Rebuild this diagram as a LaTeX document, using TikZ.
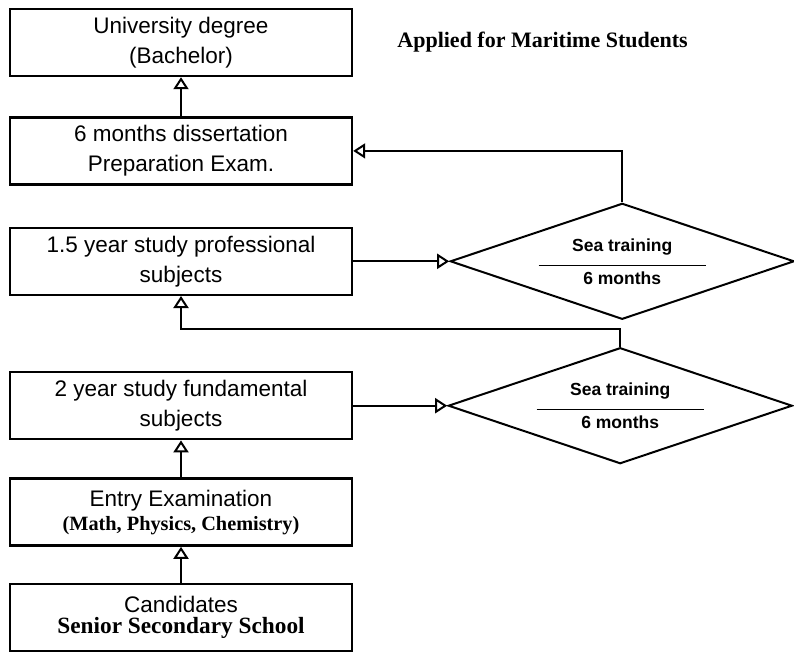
\documentclass[tikz,border=0pt]{standalone}
\usepackage{fontspec}
\setmainfont{Liberation Sans}
\newfontfamily\timesfont{Liberation Serif}
\usetikzlibrary{arrows.meta,positioning,shapes.geometric}

\begin{document}
\begin{tikzpicture}[x=1pt, y=1pt, >={Triangle[open, length=12pt, width=15pt, line width=2pt]},
  box/.style={draw, line width=2.4pt, minimum width=342pt, minimum height=67pt, align=center,
    inner sep=0pt, font=\fontsize{22.5}{30}\selectfont},
  training/.style={draw, diamond, line width=2pt, minimum width=344pt, minimum height=116pt,
    shape aspect=2.97, inner sep=0pt, align=center, font=\bfseries\fontsize{17.5}{21}\selectfont},
  banner/.style={inner sep=0pt, font=\timesfont\bfseries\fontsize{22}{26}\selectfont},
  link/.style={->, line width=2pt}]
  \useasboundingbox (0,0) rectangle (794,-654);
  \node[box] (cand) at (181,-617.5) {Candidates\\[-9pt]{\timesfont\bfseries\fontsize{23.3}{28}\selectfont Senior Secondary School}};
  \node[box, above=36pt of cand] (entry) {Entry Examination\\[-6pt]{\timesfont\bfseries\fontsize{20.3}{24}\selectfont (Math, Physics, Chemistry)}};
  \node[box, above=37pt of entry] (fund) {2 year study fundamental\\subjects};
  \node[box, above=75pt of fund] (prof) {1.5 year study professional\\subjects};
  \node[box, above=41pt of prof] (diss) {6 months dissertation\\Preparation Exam.};
  \node[box, above=39pt of diss] (degree) {University degree\\(Bachelor)};
  \node[banner, right=44pt of degree] (note) {Applied for Maritime Students};
  \node[training, right=96pt of prof] (sea1) {Sea training\\[-6pt]\rule{167pt}{1.3pt}\\[-3pt]6 months};
  \node[training, right=94pt of fund] (sea2) {Sea training\\[-6pt]\rule{167pt}{1.3pt}\\[-3pt]6 months};
  \draw[link] (cand) -- (entry);
  \draw[link] (entry) -- (fund);
  \draw[link] (diss) -- (degree);
  \draw[link] (prof) -- (sea1);
  \draw[link] (fund) -- (sea2);
  \draw[link] (sea1.north) |- (diss.east);
  \draw[link] (sea2.north) -- ++(0,18) -| (prof.south);
\end{tikzpicture}
\end{document}
